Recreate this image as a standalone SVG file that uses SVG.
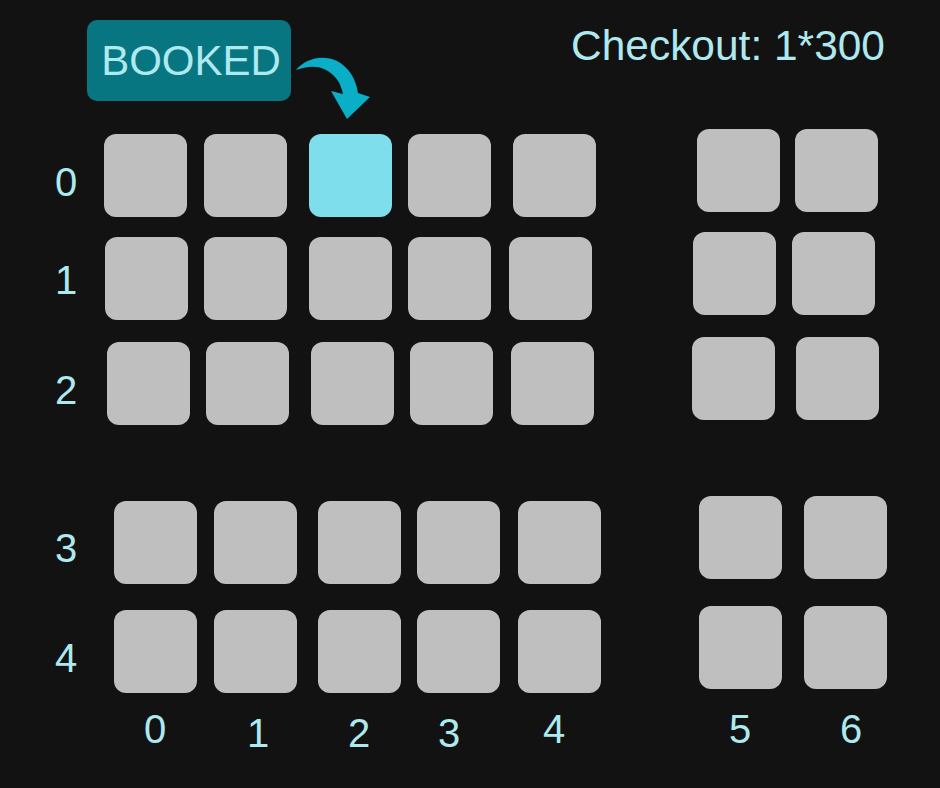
<svg xmlns="http://www.w3.org/2000/svg" width="940" height="788" viewBox="0 0 940 788">
<style>
.seat{fill:#bfbfbf;}
.booked{fill:#7fdeeb;}
.lbl{font-family:"Liberation Sans",Arial,sans-serif;font-size:40px;fill:#aee9f0;text-anchor:middle;}
.big{font-family:"Liberation Sans",Arial,sans-serif;font-size:42px;fill:#aee9f0;}
</style>
<defs>
<rect id="sq" width="83" height="83" rx="12"/>
</defs>
<rect width="940" height="788" fill="#121212"/>

<g id="badge">
<rect x="87" y="20" width="204" height="81" rx="10" fill="#077680"/>
<text class="big" x="191" y="75" text-anchor="middle">BOOKED</text>
</g>
<g id="checkout">
<text class="big" x="571" y="60" textLength="314" lengthAdjust="spacingAndGlyphs">Checkout: 1*300</text>
</g>

<g id="connectors">
<path d="M296,70 C305,59 322,54 337,61 C350,68 356,80 358,93 L370,97 L347,119 L331,91 L343,94 C341,83 335,74 324,69 C315,65 305,67 296,70 Z" fill="#0aaec6"/>
</g>

<g id="row-labels">
<text class="lbl" x="66" y="196">0</text>
<text class="lbl" x="66" y="294">1</text>
<text class="lbl" x="66" y="404">2</text>
<text class="lbl" x="66" y="562">3</text>
<text class="lbl" x="66" y="672">4</text>
</g>
<g id="col-labels">
<text class="lbl" x="155" y="743">0</text>
<text class="lbl" x="258" y="747">1</text>
<text class="lbl" x="359" y="747">2</text>
<text class="lbl" x="449" y="747">3</text>
<text class="lbl" x="554" y="743">4</text>
<text class="lbl" x="740" y="743">5</text>
<text class="lbl" x="851" y="743">6</text>
</g>

<g id="seat-0-0"><use href="#sq" class="seat" x="104" y="134"/></g>
<g id="seat-0-1"><use href="#sq" class="seat" x="204" y="134"/></g>
<g id="seat-0-2"><use href="#sq" class="booked" x="309" y="134"/></g>
<g id="seat-0-3"><use href="#sq" class="seat" x="408" y="134"/></g>
<g id="seat-0-4"><use href="#sq" class="seat" x="513" y="134"/></g>
<g id="seat-0-5"><use href="#sq" class="seat" x="697" y="129"/></g>
<g id="seat-0-6"><use href="#sq" class="seat" x="795" y="129"/></g>

<g id="seat-1-0"><use href="#sq" class="seat" x="105" y="237"/></g>
<g id="seat-1-1"><use href="#sq" class="seat" x="204" y="237"/></g>
<g id="seat-1-2"><use href="#sq" class="seat" x="309" y="237"/></g>
<g id="seat-1-3"><use href="#sq" class="seat" x="408" y="237"/></g>
<g id="seat-1-4"><use href="#sq" class="seat" x="509" y="237"/></g>
<g id="seat-1-5"><use href="#sq" class="seat" x="693" y="232"/></g>
<g id="seat-1-6"><use href="#sq" class="seat" x="792" y="232"/></g>

<g id="seat-2-0"><use href="#sq" class="seat" x="107" y="342"/></g>
<g id="seat-2-1"><use href="#sq" class="seat" x="206" y="342"/></g>
<g id="seat-2-2"><use href="#sq" class="seat" x="311" y="342"/></g>
<g id="seat-2-3"><use href="#sq" class="seat" x="410" y="342"/></g>
<g id="seat-2-4"><use href="#sq" class="seat" x="511" y="342"/></g>
<g id="seat-2-5"><use href="#sq" class="seat" x="692" y="337"/></g>
<g id="seat-2-6"><use href="#sq" class="seat" x="796" y="337"/></g>

<g id="seat-3-0"><use href="#sq" class="seat" x="114" y="501"/></g>
<g id="seat-3-1"><use href="#sq" class="seat" x="214" y="501"/></g>
<g id="seat-3-2"><use href="#sq" class="seat" x="318" y="501"/></g>
<g id="seat-3-3"><use href="#sq" class="seat" x="417" y="501"/></g>
<g id="seat-3-4"><use href="#sq" class="seat" x="518" y="501"/></g>
<g id="seat-3-5"><use href="#sq" class="seat" x="699" y="496"/></g>
<g id="seat-3-6"><use href="#sq" class="seat" x="804" y="496"/></g>

<g id="seat-4-0"><use href="#sq" class="seat" x="114" y="610"/></g>
<g id="seat-4-1"><use href="#sq" class="seat" x="214" y="610"/></g>
<g id="seat-4-2"><use href="#sq" class="seat" x="318" y="610"/></g>
<g id="seat-4-3"><use href="#sq" class="seat" x="417" y="610"/></g>
<g id="seat-4-4"><use href="#sq" class="seat" x="518" y="610"/></g>
<g id="seat-4-5"><use href="#sq" class="seat" x="699" y="606"/></g>
<g id="seat-4-6"><use href="#sq" class="seat" x="804" y="606"/></g>
</svg>
